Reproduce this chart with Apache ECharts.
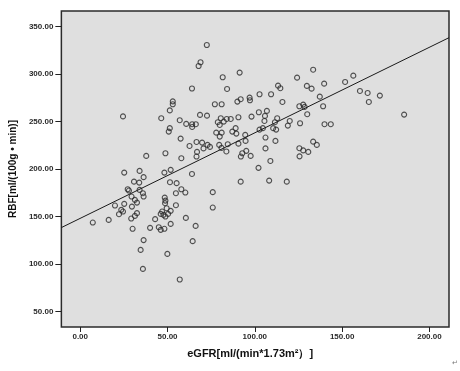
<!DOCTYPE html>
<html>
<head>
<meta charset="utf-8">
<script src="https://cdn.jsdelivr.net/npm/echarts@6/dist/echarts.min.js"></script>
<style>
html,body{margin:0;padding:0;background:#fff;}
#chart{width:460px;height:371px;}
</style>
</head>
<body>
<div id="chart"></div>
<script>
// eGFR values (x)
const egfr = [
24.5,64.0,53.0,53.0,51.3,46.4,57.0,60.7,64.1,64.1,66.2,51.3,50.7,57.5,62.6,66.6,67.8,68.9,68.6,69.8,72.9,70.6,74.3,72.5,72.6,66.9,66.6,
81.6,91.3,84.1,124.2,133.4,129.8,132.5,113.3,114.6,102.7,109.3,97.0,97.2,91.9,90.0,115.8,77.1,81.0,125.5,127.7,128.5,102.3,106.9,105.8,130.0,
80.5,83.9,86.2,90.6,98.1,105.5,112.8,111.5,78.8,82.2,79.9,120.0,118.9,125.9,89.0,87.1,89.4,110.5,112.2,102.7,104.6,77.9,81.0,79.9,94.5,
84.5,90.6,94.7,106.1,111.8,79.6,80.9,83.7,95.1,92.8,106.1,125.5,127.7,130.6,125.6,97.6,92.0,
139.7,151.7,156.4,137.2,160.2,164.6,171.6,165.3,139.1,185.5,139.9,143.5,133.4,135.5,
108.9,102.1,91.9,108.2,118.3,75.9,75.9,
37.8,48.8,57.9,25.2,34.0,36.3,30.8,33.8,48.2,51.8,64.0,51.4,55.2,27.2,27.9,29.4,34.0,35.9,36.3,31.3,32.5,54.8,57.9,60.2,
19.9,25.2,23.5,24.5,22.2,29.6,48.4,48.8,48.6,54.8,46.9,49.5,51.8,50.3,47.7,48.8,46.1,32.5,31.3,29.2,7.2,16.3,42.9,60.5,
51.8,66.1,30.0,40.0,45.0,46.1,48.2,36.3,34.6,64.4,49.9,35.9,57.0
];
// RBF values (y)
const rbf = [
255.5,284.9,271.3,268.3,261.8,253.6,251.5,247.6,247.3,244.4,247.3,243.1,239.5,232.1,224.4,228.6,308.6,312.5,257.1,227.9,225.5,221.8,223.4,330.7,256.3,218.1,213.2,
296.7,301.6,284.4,296.3,304.7,287.6,284.7,287.9,285.2,278.8,278.8,275.3,272.5,273.6,271.1,270.7,268.3,268.3,266.2,267.9,265.5,259.9,261.3,256.0,257.8,
253.6,252.8,252.8,254.6,255.3,250.7,253.6,249.4,249.4,250.0,246.5,250.7,245.8,248.3,243.1,239.5,237.4,243.1,241.6,241.6,243.1,238.4,238.4,234.2,236.0,
226.2,226.8,229.7,233.2,229.7,225.5,222.3,218.6,219.2,216.7,221.8,222.0,219.7,218.1,213.4,213.9,213.2,
290.0,291.8,298.4,276.3,282.3,280.2,277.4,270.7,266.2,257.4,247.3,247.3,228.9,225.5,
208.6,201.3,186.8,187.9,186.8,175.7,159.5,
213.9,216.7,211.5,196.3,198.1,191.5,186.8,185.8,196.3,199.2,194.9,186.2,185.2,178.8,177.4,171.1,178.1,174.6,171.1,167.6,164.7,174.6,178.8,175.3,
161.6,163.4,157.1,155.3,152.5,160.5,170.0,166.8,164.1,162.0,155.3,158.8,156.0,152.8,151.8,150.0,152.8,153.6,150.7,147.9,143.7,146.5,147.3,148.6,
142.3,140.2,137.1,138.1,138.8,136.0,137.1,125.2,114.9,124.1,110.7,94.9,83.7
];
// fit line end points
const fitX = [-10.8, 211.2];
const fitY = [138.4, 338.4];
// tick labels
const xTicks = [0, 50, 100, 150, 200];
const yTicks = [50, 100, 150, 200, 250, 300, 350];

const points = egfr.map((v, i) => [v, rbf[i]]);
const fitLine = fitX.map((v, i) => [v, fitY[i]]);

const chart = echarts.init(document.getElementById('chart'), null, {renderer: 'canvas'});
const lbl = {fontFamily: 'Liberation Sans, Arial, sans-serif', fontSize: 8, fontWeight: 'bold', color: '#2a2a2a'};
chart.setOption({
  animation: false,
  backgroundColor: '#ffffff',
  grid: {left: 59, top: 11, width: 390, height: 316, show: true, backgroundColor: '#dfdfdf', borderColor: '#2b2b2b', borderWidth: 1.5},
  xAxis: {
    type: 'value', min: -10.8, max: 211.2,
    name: 'eGFR[ml/(min*1.73m\u00b2\uff09]', nameLocation: 'middle', nameGap: 21,
    nameTextStyle: {fontFamily: 'Liberation Sans, Arial, sans-serif', fontSize: 11, fontWeight: 'bold', color: '#111', padding: [0, 10, 0, 0]},
    axisLine: {show: false, onZero: false},
    splitLine: {show: false},
    axisTick: {show: true, length: 5, inside: false, customValues: xTicks, lineStyle: {color: '#222', width: 1}},
    axisLabel: Object.assign({customValues: xTicks, margin: 6, formatter: v => v.toFixed(2)}, lbl)
  },
  yAxis: {
    type: 'value', min: 33.7, max: 366.5,
    name: 'RBF[ml/(100g \u2022 min)]', nameLocation: 'middle', nameGap: 42, nameRotate: 90,
    nameTextStyle: {fontFamily: 'Liberation Sans, Arial, sans-serif', fontSize: 10, fontWeight: 'bold', color: '#111'},
    axisLine: {show: false, onZero: false},
    splitLine: {show: false},
    axisTick: {show: true, length: 6, inside: false, customValues: yTicks, lineStyle: {color: '#222', width: 1}},
    axisLabel: Object.assign({customValues: yTicks, margin: 8, formatter: v => v.toFixed(2)}, lbl)
  },
  series: [
    {
      type: 'scatter', data: points, symbol: 'circle', symbolSize: 5,
      itemStyle: {color: 'rgba(0,0,0,0)', borderColor: '#2a2a2a', borderWidth: 1.1},
      z: 2
    },
    {
      type: 'line', data: fitLine, symbol: 'none',
      lineStyle: {color: '#1a1a1a', width: 1}, z: 3
    }
  ],
  graphic: [
    {type: 'text', left: 452, top: 360, style: {text: '\u21b5', fontSize: 7, fill: '#777'}}
  ]
});
</script>
</body>
</html>
